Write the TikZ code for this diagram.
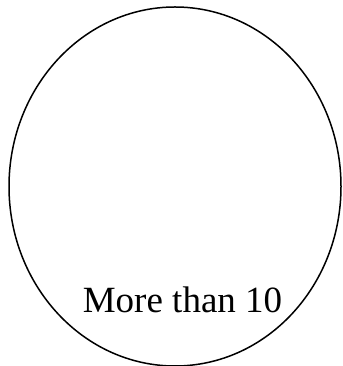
\documentclass[tikz,border=0pt]{standalone}
\usepackage{fontspec}
\setmainfont{Liberation Serif}
\usetikzlibrary{shapes.geometric}
\begin{document}
\begin{tikzpicture}[x=1pt,y=1pt,
  oval/.style={draw,ellipse,line width=1.5pt,inner sep=0pt,minimum width=332pt,minimum height=359pt},
  label/.style={anchor=base,font=\fontsize{37}{44}\selectfont}]
\useasboundingbox (0,0) rectangle (342,366);
\node[oval] (blob) at (175,179.5) {};
\node[label] (count) at (182.5,53) {More than 10};
\end{tikzpicture}
\end{document}
